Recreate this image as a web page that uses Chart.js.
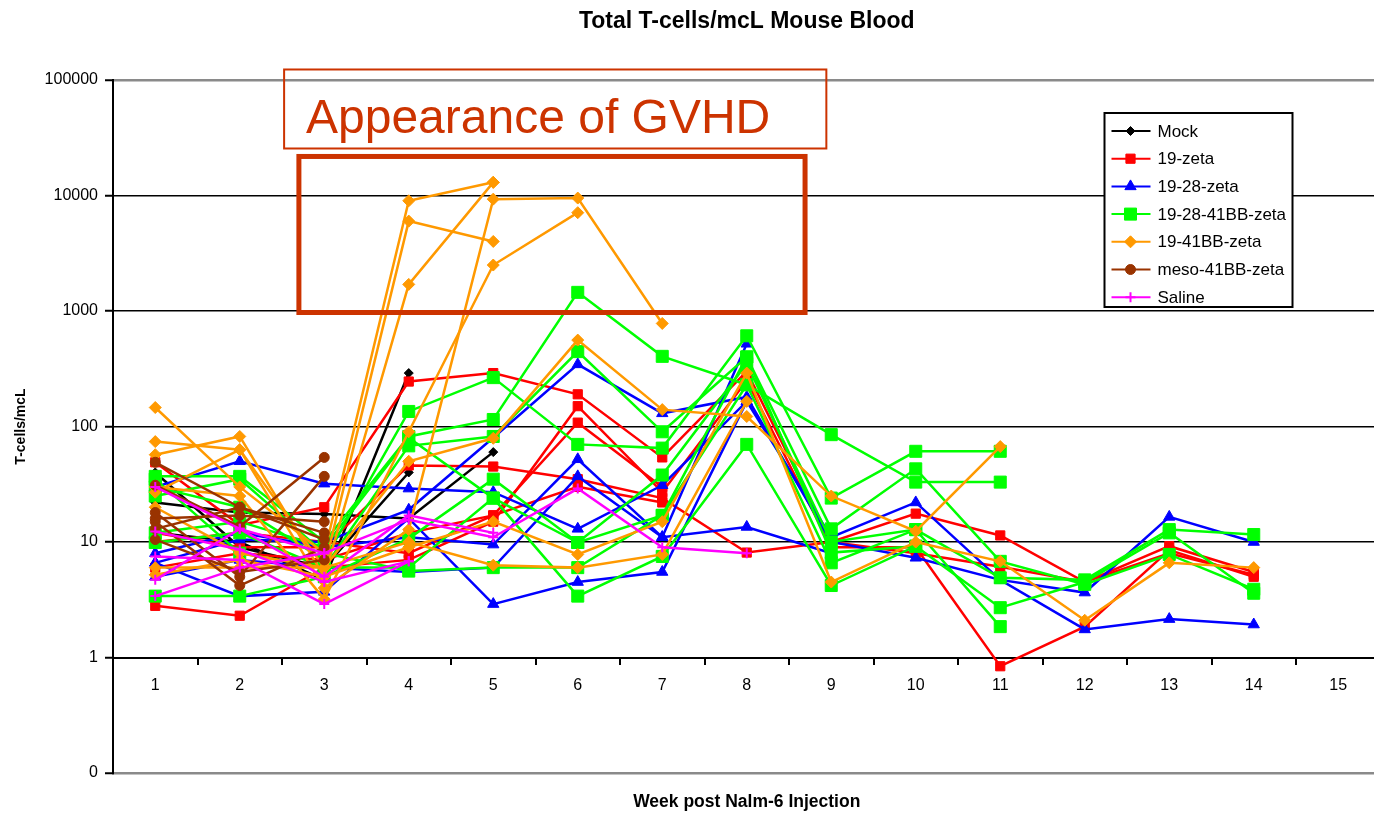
<!DOCTYPE html>
<html>
<head>
<meta charset="utf-8">
<script src="https://cdn.jsdelivr.net/npm/chart.js@4/dist/chart.umd.min.js"></script>
<style>
html, body { margin: 0; padding: 0; overflow: hidden; background: #ffffff; }
#wrap { width: 1374px; height: 815px; position: relative; }
</style>
</head>
<body>
<div id="wrap"><canvas id="c"></canvas></div>
<script>
// ---------------- data ----------------
const weeks = ['1','2','3','4','5','6','7','8','9','10','11','12','13','14','15'];
const yTickValues = [0.1, 1, 10, 100, 1000, 10000, 100000];
const yTickLabels = ['0', '1', '10', '100', '1000', '10000', '100000'];
const groupNames = ['Mock', '19-zeta', '19-28-zeta', '19-28-41BB-zeta', '19-41BB-zeta', 'meso-41BB-zeta', 'Saline'];

// one array per mouse, values by week (1..14)
const mock = [
  [22, 18, 17.5, 16, 60],
  [12, 10, 4.7, 290],
  [40, 9, 6, 40]
];
const zeta19 = [
  [49, 14, 20, 245, 290, 190, 54, 300, 10, 17.6, 11.4, 4.5, 9.2, 5.5],
  [12, 9, 9, 46, 45, 35, 24, 8.1, 10, 8, 6.1, 4.5, 8, 5.2],
  [2.8, 2.3, 6, 7, 15, 150, 27, 250, 9, 9, 0.84, 1.85, 8.5, 5],
  [6, 8, 7, 12, 17, 108, 30],
  [10, 12, 10, 8, 17, 30, 22]
];
const zeta1928 = [
  [30, 50, 32, 29, 27, 13, 31, 165, 11, 22, 4.7, 3.65, 16.5, 10],
  [6.6, 10.5, 10, 19, 80, 345, 130, 180, 10, 7.3, 4.7, 1.75, 2.15, 1.93],
  [6.6, 3.4, 3.7, 16, 2.9, 4.5, 5.5, 165],
  [5, 7, 6, 5.5, 6, 37, 11, 13.5, 8],
  [8, 12, 9, 11, 9.5, 52, 11, 520]
];
const zeta192841BB = [
  [37, 37, 10, 82, 115, 1450, 405, 230, 85, 33, 33],
  [30, 20, 7, 135, 265, 70, 65, 610, 24, 61, 61],
  [9.9, 12, 6, 68, 82, 445, 90, 400, 13, 43, 6.8, 4.3, 7.8, 3.9],
  [3.4, 3.4, 5, 10.7, 35, 9.9, 38, 350, 10, 12.8, 4.9, 4.7, 12.8, 11.6],
  [35, 8, 6, 6, 24, 3.4, 7.5, 70, 4.2, 9.2, 2.7, 4.5, 12, 3.6],
  [25, 35, 8, 5.6, 6, 6, 17, 230, 6.6, 12.8, 1.85],
  [12, 15, 9, 80, 24, 9.9, 17, 400, 8.1, 9.2]
];
const zeta1941BB = [
  [146, 30, 8, 9000, 13000],
  [74, 63, 6, 6000, 4000],
  [57, 82, 5, 1700, 13000],
  [27, 63, 4, 12.8, 9300, 9500, 780],
  [30, 25, 3.2, 90, 2500, 7100],
  [20, 8, 6, 50, 79, 560, 140, 122, 25, 12.4, 67],
  [5.2, 7, 5, 9, 15, 7.8, 15, 290, 4.5, 10, 6.8, 2.1, 6.6, 6],
  [6, 6, 6, 10, 6.3, 6, 7.8, 165]
];
const meso41BB = [
  [49, 20, 10.5],
  [31, 13.6, 54],
  [18, 5, 37],
  [16, 17, 15],
  [15, 4.2, 9],
  [10.5, 5.5, 7],
  [13, 20, 12]
];
const saline = [
  [30, 13, 8, 15.6, 11, 29, 9, 8],
  [12.3, 8.6, 4.5, 6.8],
  [7.5, 7, 2.9, 6.8],
  [4.7, 13, 5, 17, 12],
  [3.4, 6, 8]
];

// ---------------- styles ----------------
const FONT = "'Liberation Sans', Arial, sans-serif";
const groupData = [mock, zeta19, zeta1928, zeta192841BB, zeta1941BB, meso41BB, saline];
const groupColors = ['#000000', '#ff0000', '#0000ff', '#00ff00', '#ff9900', '#993300', '#ff00ff'];
const groupPoints = ['rectRot', 'rect', 'triangle', 'rect', 'rectRot', 'circle', 'cross'];
const groupRadius = [4.5, 6.5, 6.5, 8.5, 6, 5, 5];
const annotColor = '#cc3300';
const plotRightEdge = 1380.5; // plot area continues slightly past the window edge

const datasets = [];
groupData.forEach((mice, g) => {
  mice.forEach((vals) => {
    datasets.push({
      label: groupNames[g],
      data: vals,
      borderColor: groupColors[g],
      backgroundColor: groupColors[g],
      borderWidth: 2.5,
      pointStyle: groupPoints[g],
      pointRadius: groupRadius[g],
      pointHoverRadius: groupRadius[g],
      pointBorderWidth: g === 6 ? 2 : 1,
      order: 7 - g,
      tension: 0,
      spanGaps: false,
      clip: false
    });
  });
});

// ---------------- plugins ----------------
const extendRight = {
  id: 'extendRight',
  afterLayout(chart) {
    const ca = chart.chartArea;
    const ext = plotRightEdge - ca.right;
    if (ext <= 0) return;
    ca.right += ext; ca.width += ext;
    const xs = chart.scales.x;
    xs.right += ext; xs.width += ext;
    xs.configure();
    chart.boxes.forEach(b => {
      if (!b.axis && b.options && b.options.text !== undefined && b.options.position !== 'left' && b.options.position !== 'right') {
        b.right += ext; b.width += ext;
      }
    });
  }
};

const gvhdPlugin = {
  id: 'gvhd',
  afterDatasetsDraw(chart) {
    const xs = chart.scales.x, ys = chart.scales.y, ctx = chart.ctx;
    const x0 = xs.getPixelForValue(0), step = xs.getPixelForValue(1) - x0;
    const px = i => x0 + i * step;
    const py = e => ys.getPixelForValue(Math.pow(10, e));
    ctx.save();
    ctx.strokeStyle = annotColor;
    ctx.lineWidth = 2;
    ctx.strokeRect(px(1.525), py(5.091), px(7.942) - px(1.525), py(4.407) - py(5.091));
    ctx.fillStyle = annotColor;
    ctx.font = "48px " + FONT;
    ctx.textBaseline = 'alphabetic';
    ctx.textAlign = 'left';
    ctx.fillText('Appearance of GVHD', px(1.784), py(4.545));
    ctx.lineWidth = 5;
    ctx.strokeRect(px(1.70), py(4.338), px(7.69) - px(1.70), py(2.987) - py(4.338));
    ctx.restore();
  }
};

function drawMarker(ctx, style, x, y, r, color) {
  ctx.fillStyle = color; ctx.strokeStyle = color; ctx.lineWidth = 1;
  ctx.beginPath();
  if (style === 'rect') {
    const s = r * Math.SQRT1_2;
    ctx.rect(x - s, y - s, 2 * s, 2 * s);
    ctx.fill(); ctx.stroke();
  } else if (style === 'rectRot') {
    ctx.moveTo(x - r, y); ctx.lineTo(x, y - r); ctx.lineTo(x + r, y); ctx.lineTo(x, y + r); ctx.closePath();
    ctx.fill(); ctx.stroke();
  } else if (style === 'triangle') {
    ctx.moveTo(x, y - r); ctx.lineTo(x + r * 0.866, y + r * 0.5); ctx.lineTo(x - r * 0.866, y + r * 0.5); ctx.closePath();
    ctx.fill(); ctx.stroke();
  } else if (style === 'circle') {
    ctx.arc(x, y, r, 0, Math.PI * 2);
    ctx.fill(); ctx.stroke();
  } else if (style === 'cross') {
    ctx.lineWidth = 2;
    ctx.moveTo(x - r, y); ctx.lineTo(x + r, y); ctx.moveTo(x, y - r); ctx.lineTo(x, y + r);
    ctx.stroke();
  }
}

const boxLegend = {
  id: 'boxLegend',
  afterDraw(chart) {
    const ctx = chart.ctx;
    const ca = chart.chartArea;
    const left = ca.right - 276, top = ca.top + 33, w = 188, h = 194;
    ctx.save();
    ctx.fillStyle = '#ffffff';
    ctx.fillRect(left, top, w, h);
    ctx.strokeStyle = '#000000';
    ctx.lineWidth = 2;
    ctx.strokeRect(left, top, w, h);
    const rowH = 27.7;
    groupNames.forEach((name, g) => {
      const cy = top + 18 + g * rowH;
      ctx.strokeStyle = groupColors[g];
      ctx.lineWidth = 2;
      ctx.beginPath();
      ctx.moveTo(left + 7, cy); ctx.lineTo(left + 46, cy);
      ctx.stroke();
      drawMarker(ctx, groupPoints[g], left + 26, cy, groupRadius[g], groupColors[g]);
      ctx.fillStyle = '#000000';
      ctx.font = "17px " + FONT;
      ctx.textBaseline = 'middle';
      ctx.textAlign = 'left';
      ctx.fillText(name, left + 53, cy + 1);
    });
    ctx.restore();
  }
};

// ---------------- chart ----------------
new Chart(document.getElementById('c'), {
  type: 'line',
  data: { labels: weeks, datasets },
  plugins: [extendRight, gvhdPlugin, boxLegend],
  options: {
    responsive: true,
    maintainAspectRatio: false,
    animation: false,
    events: [],
    layout: { padding: { left: 0, right: 1, top: 0, bottom: 0 } },
    plugins: {
      legend: { display: false },
      tooltip: { enabled: false },
      title: {
        display: true,
        text: 'Total T-cells/mcL Mouse Blood',
        fullSize: false,
        color: '#000000',
        font: { family: FONT, size: 23, weight: 'bold' },
        padding: { top: 8, bottom: 44.4 }
      },
      subtitle: {
        display: true,
        position: 'bottom',
        text: 'Week post Nalm-6 Injection',
        fullSize: false,
        color: '#000000',
        font: { family: FONT, size: 17.5, weight: 'bold' },
        padding: { top: 18.5, bottom: 2.5 }
      }
    },
    scales: {
      x: {
        type: 'category',
        offset: true,
        position: { y: 1 },
        afterFit: s => { s.height = 0; s.paddingLeft = 0; s.paddingRight = 0; },
        grid: { display: true, drawOnChartArea: false, offset: true, tickLength: 6, color: '#000000', lineWidth: 2 },
        border: { display: true, color: '#000000', width: 2 },
        ticks: { color: '#000000', font: { family: FONT, size: 16 }, padding: 12, maxRotation: 0, autoSkip: false }
      },
      y: {
        type: 'logarithmic',
        position: 'left',
        min: 0.1,
        max: 100000,
        afterFit: s => { s.width = 113; },
        afterBuildTicks: s => { s.ticks = yTickValues.map(v => ({ value: v, major: false })); },
        grid: {
          color: ctx => (ctx.tick && (ctx.tick.value === 0.1 || ctx.tick.value === 100000)) ? '#8a8a8a' : '#000000',
          lineWidth: ctx => (ctx.tick && (ctx.tick.value === 0.1 || ctx.tick.value === 100000)) ? 2.5 : 1.5,
          tickLength: 8,
          tickColor: '#000000',
          tickWidth: 2
        },
        border: { display: true, color: '#000000', width: 2 },
        ticks: {
          color: '#000000',
          font: { family: FONT, size: 16 },
          padding: 7,
          callback: (v) => yTickLabels[yTickValues.indexOf(v)]
        },
        title: {
          display: true,
          text: 'T-cells/mcL',
          color: '#000000',
          font: { family: FONT, size: 14, weight: 'bold' },
          padding: { top: 13, bottom: 0 }
        }
      }
    }
  }
});
</script>
</body>
</html>
